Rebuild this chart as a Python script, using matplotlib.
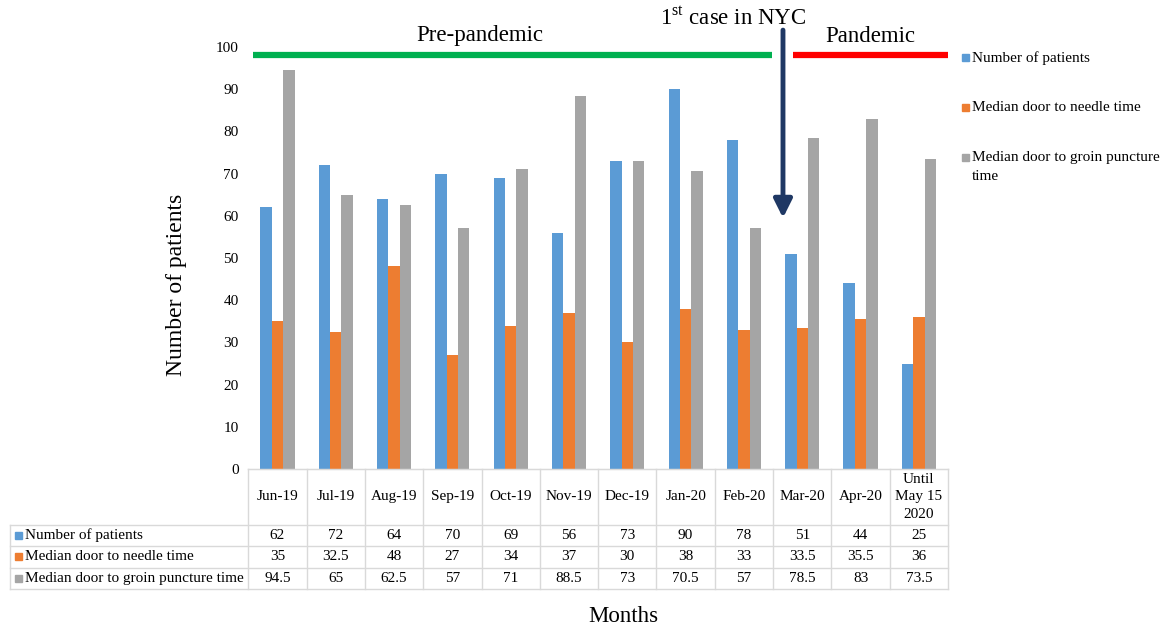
import matplotlib
matplotlib.use("Agg")
import matplotlib.pyplot as plt
from matplotlib.patches import Rectangle
import numpy as np

plt.rcParams['font.family'] = ['Liberation Serif', 'DejaVu Serif']
plt.rcParams['mathtext.fontset'] = 'custom'
plt.rcParams['mathtext.rm'] = 'Liberation Serif'

months = ["Jun-19", "Jul-19", "Aug-19", "Sep-19", "Oct-19", "Nov-19", "Dec-19",
          "Jan-20", "Feb-20", "Mar-20", "Apr-20", "Until\nMay 15\n2020"]
patients = [62, 72, 64, 70, 69, 56, 73, 90, 78, 51, 44, 25]
needle = [35, 32.5, 48, 27, 34, 37, 30, 38, 33, 33.5, 35.5, 36]
groin = [94.5, 65, 62.5, 57, 71, 88.5, 73, 70.5, 57, 78.5, 83, 73.5]
series_names = ["Number of patients", "Median door to needle time",
                "Median door to groin puncture time"]
legend_names = ["Number of patients", "Median door to needle time",
                "Median door to groin puncture\ntime"]
colors = ["#5B9BD5", "#ED7D31", "#A5A5A5"]
yticks = [0, 10, 20, 30, 40, 50, 60, 70, 80, 90, 100]

W, H = 1165, 631
fig = plt.figure(figsize=(W / 100, H / 100), dpi=100)


def fx(px):
    return px / W


def fy(py):
    return 1 - py / H


ax_left, ax_right, ax_top, ax_bot = 248.3, 948, 47, 469
ax = fig.add_axes([fx(ax_left), fy(ax_bot), fx(ax_right) - fx(ax_left), fy(ax_top) - fy(ax_bot)])
n = len(months)
x = np.arange(n)
bw = 0.195
for i, (vals, c) in enumerate(zip([patients, needle, groin], colors)):
    ax.bar(x + (i - 1) * bw, vals, width=bw, color=c, zorder=2)
ax.set_xlim(-0.5, n - 0.5)
ax.set_ylim(0, 100)
ax.set_yticks(yticks)
ax.tick_params(axis='y', length=0, labelsize=11, pad=7)
ax.set_xticks([])
for s in ["top", "right", "left"]:
    ax.spines[s].set_visible(False)
ax.spines["bottom"].set_color("#D9D9D9")
ax.set_ylabel("Number of patients", fontsize=17)
ax.yaxis.set_label_coords((187 - ax_left) / (ax_right - ax_left), (ax_bot - 285) / (ax_bot - ax_top))

# Phase lines and annotations
ax.plot([-0.42, 8.48], [98, 98], color="#00B050", lw=4.5, clip_on=False, solid_capstyle='butt')
ax.plot([8.84, n - 0.5], [98, 98], color="#FF0000", lw=4.5, clip_on=False, solid_capstyle='butt')
ax.text(3.47, 100.2, "Pre-pandemic", fontsize=16.5, ha="center", va="bottom")
ax.text(10.17, 100.0, "Pandemic", fontsize=16.5, ha="center", va="bottom")
ax.text(7.82, 104.0, r"1$^{\mathrm{st}}$ case in NYC", fontsize=16.5, ha="center", va="bottom")
ax.annotate("", xy=(8.67, 59.5), xytext=(8.67, 104.0),
            arrowprops=dict(arrowstyle="-|>,head_length=1.1,head_width=0.55",
                            color="#1F3864", lw=3.5, shrinkA=0, shrinkB=0),
            annotation_clip=False)

# Legend on right
leg_y = [57, 107, 157]
for name, c, py in zip(legend_names, colors, leg_y):
    fig.patches.append(Rectangle((fx(962), fy(py + 4)), fx(7), 7 / H, color=c,
                                 transform=fig.transFigure, figure=fig))
    fig.text(fx(972), fy(py - 6), name, fontsize=11, va="top", ha="left", linespacing=1.6)

# Table
grid_c = "#D9D9D9"
col_w = (ax_right - ax_left) / n
rows_y = [469, 524.5, 546, 567.5, 589]
tab_left = 10
fig.add_artist(plt.Line2D([fx(ax_left), fx(ax_right)], [fy(rows_y[0])] * 2, color=grid_c, lw=1))
for yy in rows_y[1:]:
    fig.add_artist(plt.Line2D([fx(tab_left), fx(ax_right)], [fy(yy)] * 2, color=grid_c, lw=1))
for k in range(n + 1):
    xx = ax_left + k * col_w
    fig.add_artist(plt.Line2D([fx(xx)] * 2, [fy(rows_y[0]), fy(rows_y[-1])], color=grid_c, lw=1))
fig.add_artist(plt.Line2D([fx(tab_left)] * 2, [fy(rows_y[1]), fy(rows_y[-1])], color=grid_c, lw=1))

for k, m in enumerate(months):
    cx = ax_left + (k + 0.5) * col_w
    fig.text(fx(cx), fy((rows_y[0] + rows_y[1]) / 2), m, fontsize=11, ha="center",
             va="center", linespacing=1.45)
for r, (name, vals, c) in enumerate(zip(series_names, [patients, needle, groin], colors)):
    cy = (rows_y[r + 1] + rows_y[r + 2]) / 2
    fig.patches.append(Rectangle((fx(15), fy(cy + 3.5)), fx(7), 7 / H, color=c,
                                 transform=fig.transFigure, figure=fig))
    fig.text(fx(25), fy(cy), name, fontsize=11, ha="left", va="center")
    for k, v in enumerate(vals):
        cx = ax_left + (k + 0.5) * col_w
        fig.text(fx(cx), fy(cy), f"{v:g}", fontsize=11, ha="center", va="center")

fig.text(fx(623), fy(617), "Months", fontsize=16.5, ha="center", va="center")

fig.savefig("out.png", dpi=100)
